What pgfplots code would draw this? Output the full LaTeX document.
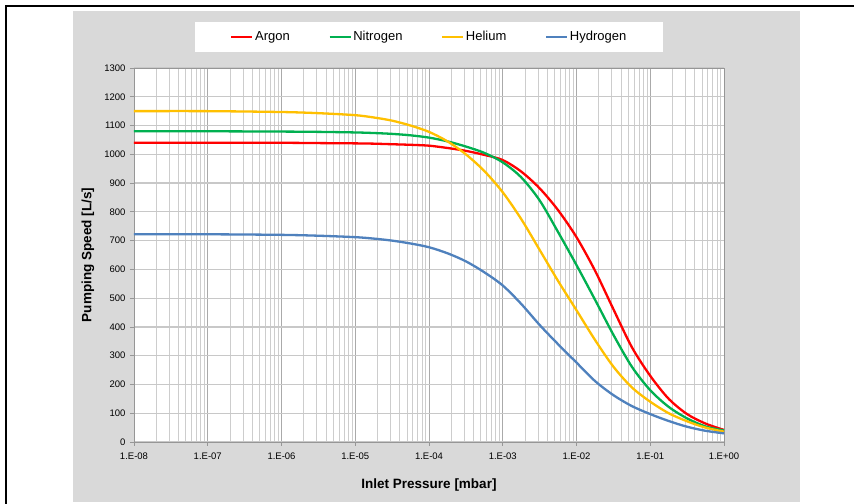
\documentclass[border=0pt]{standalone}
\usepackage{pgfplots}
\pgfplotsset{compat=1.18}
\usepackage{fontspec}
\setmainfont{Liberation Sans}
\definecolor{panel}{RGB}{217,217,217}
\definecolor{cAr}{RGB}{255,0,0}
\definecolor{cN}{RGB}{0,176,80}
\definecolor{cHe}{RGB}{255,192,0}
\definecolor{cH}{RGB}{79,129,189}
\definecolor{hgrid}{RGB}{200,200,200}
\definecolor{vgrid}{RGB}{170,170,170}
\definecolor{mgrid}{RGB}{205,205,205}
\definecolor{axcol}{RGB}{150,150,150}

\pgfplotstableread{
p        v
1e-8     1040
1e-7     1040
1e-6     1040
3.16e-6  1039
1e-5     1038
1.78e-5  1037
3.16e-5  1035
5.62e-5  1033
1e-4     1030
1.78e-4  1022
3.16e-4  1012
5.62e-4  998
1e-3     980
1.78e-3  940
3.16e-3  882
5.62e-3  806
1e-2     712
1.78e-2  596
3.16e-2  462
5.62e-2  330
1e-1     230
1.78e-1  150
3.16e-1  97
5.62e-1  64
1        42
}\argon

\pgfplotstableread{
p        v
1e-8     1080
1e-7     1080
1e-6     1079
3.16e-6  1078
1e-5     1076
1.78e-5  1074
3.16e-5  1071
5.62e-5  1066
1e-4     1058
1.78e-4  1045
3.16e-4  1027
5.62e-4  1005
1e-3     972
1.78e-3  920
3.16e-3  840
5.62e-3  730
1e-2     615
1.78e-2  495
3.16e-2  373
5.62e-2  262
1e-1     180
1.78e-1  122
3.16e-1  82
5.62e-1  54
1        40
}\nitrogen

\pgfplotstableread{
p        v
1e-8     1150
1e-7     1150
1e-6     1147
3.16e-6  1143
1e-5     1136
1.78e-5  1128
3.16e-5  1117
5.62e-5  1100
1e-4     1078
1.78e-4  1045
3.16e-4  1000
5.62e-4  942
1e-3     868
1.78e-3  775
3.16e-3  668
5.62e-3  560
1e-2     458
1.78e-2  355
3.16e-2  262
5.62e-2  190
1e-1     140
1.78e-1  100
3.16e-1  72
5.62e-1  50
1        36
}\helium

\pgfplotstableread{
p        v
1e-8     722
1e-7     722
1e-6     720
3.16e-6  717
1e-5     712
1.78e-5  707
3.16e-5  700
5.62e-5  690
1e-4     677
1.78e-4  656
3.16e-4  628
5.62e-4  590
1e-3     544
1.78e-3  480
3.16e-3  407
5.62e-3  340
1e-2     276
1.78e-2  212
3.16e-2  163
5.62e-2  125
1e-1     97
1.78e-1  73
3.16e-1  53
5.62e-1  39
1        30
}\hydrogen

\begin{document}
\begin{tikzpicture}
\path[use as bounding box] (0bp,0bp) rectangle (854bp,504bp);
\fill[white] (0bp,0bp) rectangle (854bp,504bp);
\fill[panel] (73bp,2bp) rectangle (800bp,493bp);
\fill[white] (195bp,452bp) rectangle (663bp,482bp);
\draw[black, line width=2bp] (6bp,0bp) -- (6bp,498bp) -- (854bp,498bp);
\begin{axis}[
  at={(134bp,62bp)}, anchor=south west,
  scale only axis, width=590bp, height=374bp,
  xmode=log, xmin=1e-8, xmax=1, ymin=0, ymax=1300,
  ytick={0,100,...,1300},
  xtick={1e-8,1e-7,1e-6,1e-5,1e-4,1e-3,1e-2,1e-1,1},
  xticklabels={1.E-08,1.E-07,1.E-06,1.E-05,1.E-04,1.E-03,1.E-02,1.E-01,1.E+00},
  /pgf/number format/1000 sep={},
  /pgf/number format/assume math mode=true,
  axis background/.style={fill=white},
  axis line style={axcol, line width=0.8bp},
  tick style={axcol, line width=0.8bp},
  major tick length=4bp, minor tick length=0bp,
  tick align=outside,
  xtick pos=bottom, ytick pos=left,
  grid=both,
  x grid style={vgrid, line width=0.6bp},
  y grid style={hgrid, line width=1.3bp},
  minor x grid style={mgrid, line width=0.5bp},
  minor y grid style={draw=none},
  ticklabel style={font=\fontsize{9.5bp}{11bp}\selectfont, text=black},
  yticklabel style={xshift=-1bp},
  xticklabel style={yshift=-3bp},
  xlabel={Inlet Pressure [mbar]},
  ylabel={Pumping Speed [L/s]},
  every axis x label/.style={at={(axis description cs:0.5,-0.115)}, anchor=center,
    font=\fontsize{13.5bp}{15bp}\selectfont\bfseries},
  every axis y label/.style={at={(axis description cs:-0.078,0.5)}, anchor=center, rotate=90,
    font=\fontsize{13.5bp}{15bp}\selectfont\bfseries},
  legend columns=4,
  legend style={at={(axis description cs:0.5,1.083)}, anchor=center, draw=none, fill=none,
    font=\fontsize{13bp}{15bp}\selectfont,
    /tikz/every even column/.append style={column sep=37bp},
    nodes={inner xsep=1.5bp, inner ysep=1bp}},
  legend image code/.code={\draw[#1, line width=2.5bp] (0bp,0bp) -- (21bp,0bp);},
]
\addplot[cAr, line width=2.3bp, smooth, tension=0.5] table[x=p,y=v] {\argon};
\addlegendentry{Argon}
\addplot[cN, line width=2.3bp, smooth, tension=0.5] table[x=p,y=v] {\nitrogen};
\addlegendentry{Nitrogen}
\addplot[cHe, line width=2.3bp, smooth, tension=0.5] table[x=p,y=v] {\helium};
\addlegendentry{Helium}
\addplot[cH, line width=2.3bp, smooth, tension=0.5] table[x=p,y=v] {\hydrogen};
\addlegendentry{Hydrogen}
\end{axis}
\end{tikzpicture}
\end{document}
